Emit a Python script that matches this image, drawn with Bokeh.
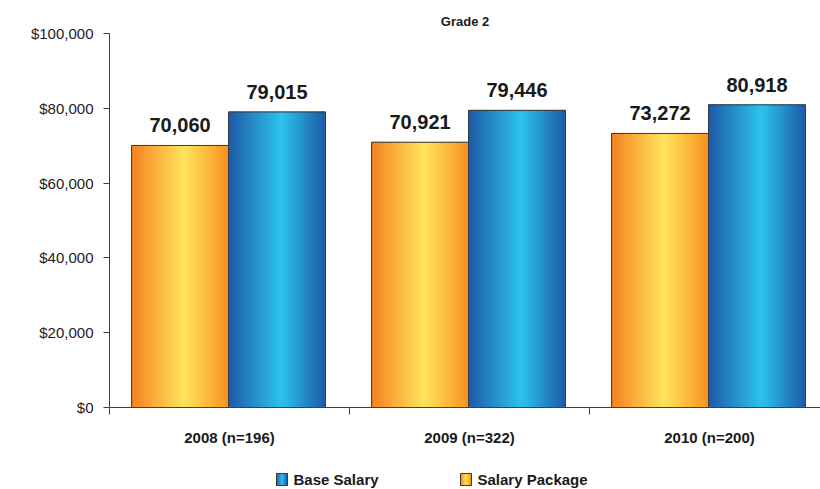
from bokeh.plotting import figure
from bokeh.layouts import column
from bokeh.models import (Range1d, FixedTicker, NumeralTickFormatter, ColumnDataSource)
from bokeh.core.properties import value
from bokeh.embed import file_html
from bokeh.resources import INLINE

# ---- data ----
categories = ["2008 (n=196)", "2009 (n=322)", "2010 (n=200)"]
salary_package = [70060, 70921, 73272]
base_salary = [79015, 79446, 80918]
y_ticks = [0, 20000, 40000, 60000, 80000, 100000]
series_names = ["Base Salary", "Salary Package"]
title_text = "Grade 2"

FONT = "Liberation Sans"

# gradient stops (position, color)
orange_stops = [(0.0, (245, 130, 32)), (0.55, (255, 228, 92)), (1.0, (247, 146, 30))]
blue_stops = [(0.0, (30, 88, 166)), (0.55, (44, 195, 238)), (1.0, (28, 92, 168))]


def interp(stops, t):
    for (t0, c0), (t1, c1) in zip(stops[:-1], stops[1:]):
        if t0 <= t <= t1:
            f = (t - t0) / (t1 - t0) if t1 > t0 else 0
            c = tuple(int(round(a + (b - a) * f)) for a, b in zip(c0, c1))
            return "#%02x%02x%02x" % c
    return "#%02x%02x%02x" % stops[-1][1]


W = 820
H_MAIN = 467
H_LEG = 22
LEFT = 109

p = figure(width=W, height=H_MAIN, output_backend="svg", toolbar_location=None,
           x_range=Range1d(0, (W - LEFT) / 240), y_range=Range1d(0, 100000),
           min_border_left=LEFT, min_border_right=0, min_border_top=33, min_border_bottom=60)
p.outline_line_color = None
p.grid.visible = False
p.background_fill_color = "white"

p.title.text = title_text
p.title.align = "center"
p.title.text_font = FONT
p.title.text_font_size = "13px"
p.title.text_font_style = "bold"
p.title.text_color = "#1a1a1a"
p.title.standoff = 10

BW = 0.404  # bar width in category units
GAP = 0.092
NS = 36


def gradient_bars(fig, vals, offset, stops, bw=BW, bottom=0):
    xs, ws, tops, cols = [], [], [], []
    for i, v in enumerate(vals):
        left = i + offset
        for k in range(NS):
            t = (k + 0.5) / NS
            xs.append(left + bw * t)
            ws.append(bw / NS)
            tops.append(v)
            cols.append(interp(stops, t))
    src = ColumnDataSource(dict(x=xs, w=ws, top=tops, c=cols))
    fig.vbar(x="x", width="w", top="top", bottom=bottom, source=src,
             fill_color="c", line_color="c", line_width=1)
    centers = [i + offset + bw / 2 for i in range(len(vals))]
    fig.vbar(x=centers, width=bw, top=vals, bottom=bottom, fill_color=None,
             line_color="#3a3a3a", line_width=1)
    return centers


c_or = gradient_bars(p, salary_package, GAP, orange_stops)
c_bl = gradient_bars(p, base_salary, GAP + BW, blue_stops)

# value labels
for centers, vals in ((c_or, salary_package), (c_bl, base_salary)):
    p.text(x=centers, y=vals, text=["{:,}".format(v) for v in vals],
           text_font=value(FONT), text_font_size="20px", text_font_style="bold",
           text_color="#1a1a1a", text_align="center", text_baseline="alphabetic",
           y_offset=-20)

# axes
ya = p.yaxis[0]
ya.ticker = FixedTicker(ticks=y_ticks)
ya.formatter = NumeralTickFormatter(format="$0,0")
ya.major_label_text_font = FONT
ya.major_label_text_font_size = "15px"
ya.major_label_text_color = "#222222"
ya.major_tick_in = 0
ya.major_tick_out = 6
ya.minor_tick_line_color = None
ya.axis_line_color = "#404040"
ya.major_tick_line_color = "#404040"
ya.major_label_standoff = 10

xa = p.xaxis[0]
xa.ticker = FixedTicker(ticks=[0.5, 1.5, 2.5], minor_ticks=[0, 1, 2, 3])
xa.major_label_overrides = {0.5: categories[0], 1.5: categories[1], 2.5: categories[2]}
xa.major_label_text_font = FONT
xa.major_label_text_font_size = "15px"
xa.major_label_text_font_style = "bold"
xa.major_label_text_color = "#1a1a1a"
xa.major_tick_line_color = None
xa.major_tick_in = 0
xa.major_tick_out = 0
xa.minor_tick_in = 0
xa.minor_tick_out = 7
xa.minor_tick_line_color = "#404040"
xa.axis_line_color = "#404040"
xa.major_label_standoff = 14

# ---- legend strip (separate figure, pixel coordinates matching the page) ----
lg = figure(width=W, height=H_LEG, output_backend="svg", toolbar_location=None,
            x_range=Range1d(LEFT, W), y_range=Range1d(0, H_LEG),
            min_border_left=LEFT, min_border_right=0,
            min_border_top=0, min_border_bottom=0)
lg.axis.visible = False
lg.grid.visible = False
lg.outline_line_color = None

leg_icon_left = [276, 460]
leg_stops = [blue_stops, orange_stops]
ICON_W, ICON_H, ICON_Y = 11, 12, 10
for name, x0, stops in zip(series_names, leg_icon_left, leg_stops):
    n = 12
    xs = [x0 + ICON_W * (k + 0.5) / n for k in range(n)]
    cols = [interp(stops, (k + 0.5) / n) for k in range(n)]
    lg.vbar(x=xs, width=ICON_W / n, top=ICON_Y + ICON_H / 2, bottom=ICON_Y - ICON_H / 2,
            fill_color=cols, line_color=cols, line_width=1)
    lg.vbar(x=[x0 + ICON_W / 2], width=ICON_W, top=ICON_Y + ICON_H / 2,
            bottom=ICON_Y - ICON_H / 2, fill_color=None, line_color="#3a3a3a", line_width=1)
    lg.text(x=[x0 + ICON_W + 6], y=[ICON_Y], text=[name], text_font=value(FONT),
            text_font_size="15px", text_font_style="bold", text_color="#1a1a1a",
            text_align="left", text_baseline="middle")

layout = column(p, lg, spacing=0)
open("out.html", "w").write(file_html(layout, INLINE))
